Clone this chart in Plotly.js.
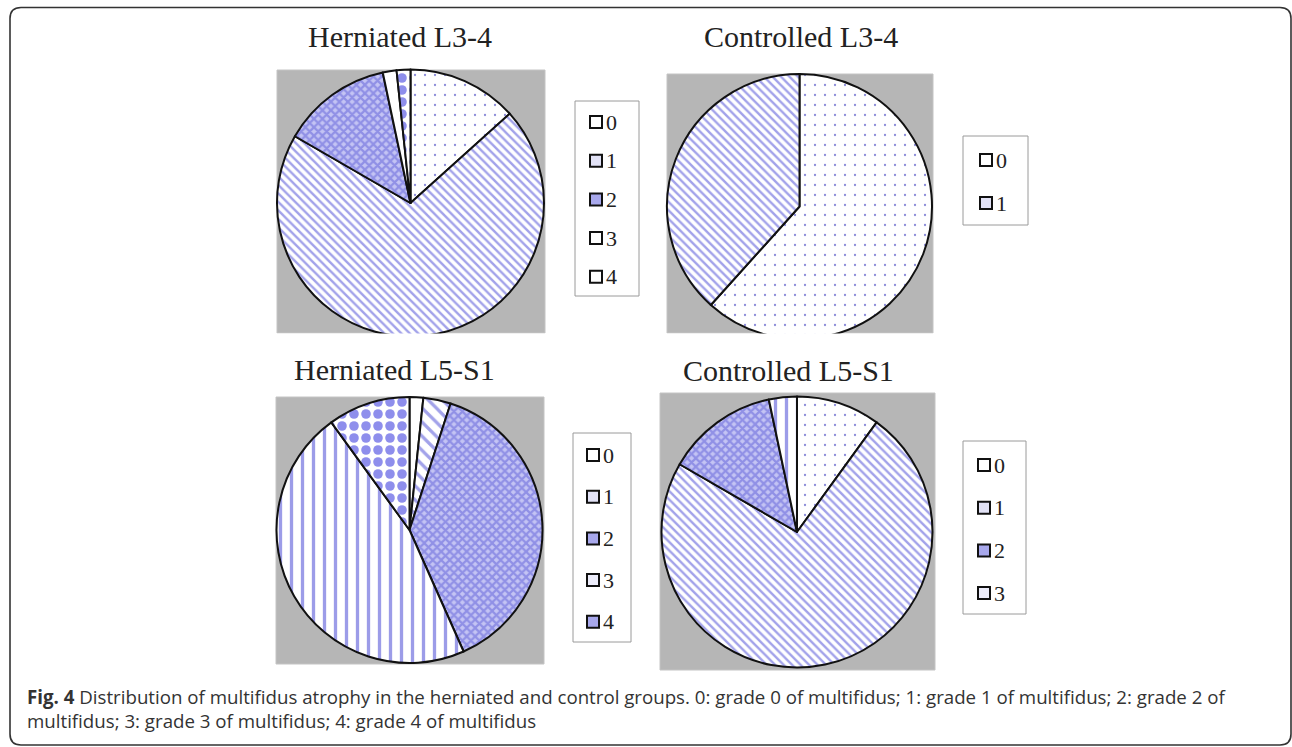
<!DOCTYPE html>
<html>
<head>
<meta charset="utf-8">
<script src="https://cdn.plot.ly/plotly-3.0.1.min.js"></script>
<style>
html,body{margin:0;padding:0;background:#ffffff;}
#chart{width:1292px;height:747px;}
</style>
</head>
<body>
<div id="chart"></div>
<script>
// ---------- data ----------
const grades = ["0", "1", "2", "3", "4"];
const titles = ["Herniated L3-4", "Controlled L3-4", "Herniated L5-S1", "Controlled L5-S1"];
const herniatedL34 = [8, 42, 8, 1, 1];
const controlledL34 = [37, 23];
const herniatedL51 = [1, 2, 23, 28, 6];
const controlledL51 = [6, 44, 8, 2];
const captionBold = "Fig. 4";
const captionLine1 = " Distribution of multifidus atrophy in the herniated and control groups. 0: grade 0 of multifidus; 1: grade 1 of multifidus; 2: grade 2 of";
const captionLine2 = "multifidus; 3: grade 3 of multifidus; 4: grade 4 of multifidus";

// ---------- styling / geometry ----------
const W = 1292, H = 747;
const px = x => x / W;
const py = y => 1 - y / H;

const ST = {
  dots:    {shape: ".",  fg: "#8c8cd8", bg: "#ffffff", size: 10, solidity: 0.04, icon: "#ffffff"},
  diag:    {shape: "\\", fg: "#a2a2ea", bg: "#ffffff", size: 6,  solidity: 0.4,  icon: "#e2e2f6"},
  diagW:   {shape: "\\", fg: "#a2a2ea", bg: "#ffffff", size: 10, solidity: 0.32, icon: "#e2e2f6"},
  cross:   {shape: "x",  fg: "#9090e6", bg: "#c4c4f4", size: 6,  solidity: 0.6,  icon: "#a8a8ec"},
  vert:    {shape: "|",  fg: "#9c9ce8", bg: "#ffffff", size: 11, solidity: 0.3,  icon: "#ececfa"},
  checker: {shape: ".",  fg: "#8e8eec", bg: "#ffffff", size: 12, solidity: 0.5,  icon: "#b8b8f0"},
  plain:   {shape: "",   fg: "#ffffff", bg: "#ffffff", size: 8,  solidity: 0.3,  icon: "#ffffff"}
};

const panels = [
  {values: herniatedL34,  styles: [ST.dots, ST.diag, ST.cross, ST.plain, ST.plain],
   pieStyles: [ST.dots, ST.diag, ST.cross, ST.plain, ST.checker],
   cx: 410.5, cy: 203, r: 133.5, box: [277, 70, 545, 333], tx: 400, ty: 37, clip: true,
   leg: {box: [575, 101, 639, 296], y0: 122, dy: 38.7, ix: 590}},
  {values: controlledL34, styles: [ST.plain, ST.diag],
   pieStyles: [ST.dots, ST.diag],
   cx: 799.5, cy: 206.5, r: 132.5, box: [667, 74, 933, 333], tx: 801, ty: 37, clip: true,
   leg: {box: [963, 136, 1028, 225], y0: 160, dy: 43, ix: 980}},
  {values: herniatedL51,  styles: [ST.plain, ST.diag, ST.cross, ST.vert, ST.cross],
   pieStyles: [ST.plain, ST.diagW, ST.cross, ST.vert, ST.checker],
   cx: 409.5, cy: 530, r: 133, box: [276, 397, 544, 664], tx: 394, ty: 370, clip: false,
   leg: {box: [573, 433, 631, 642], y0: 455, dy: 41.7, ix: 587}},
  {values: controlledL51, styles: [ST.plain, ST.diag, ST.cross, ST.vert],
   pieStyles: [ST.dots, ST.diag, ST.cross, ST.vert],
   cx: 797, cy: 532, r: 135.5, box: [660, 393, 935, 670], tx: 788, ty: 371, clip: false,
   leg: {box: [963, 441, 1026, 614], y0: 465, dy: 42.7, ix: 978}}
];

const traces = [];
const shapes = [];
const annotations = [];
const layout = {
  width: W, height: H,
  margin: {l: 0, r: 0, t: 0, b: 0, pad: 0},
  paper_bgcolor: "#ffffff",
  plot_bgcolor: "#ffffff",
  showlegend: false,
  font: {family: "Liberation Serif, serif", color: "#222222"}
};

panels.forEach((p, i) => {
  const n = p.values.length;
  const labels = grades.slice(0, n);
  traces.push({
    type: "pie",
    values: p.values,
    labels: labels,
    sort: false,
    direction: "clockwise",
    rotation: 0,
    textinfo: "none",
    hoverinfo: "none",
    showlegend: false,
    domain: {x: [px(p.cx - p.r), px(p.cx + p.r)], y: [py(p.cy + p.r), py(p.cy - p.r)]},
    marker: {
      colors: p.pieStyles.map(s => s.bg),
      line: {color: "#111111", width: 2},
      pattern: {
        shape: p.pieStyles.map(s => s.shape),
        fgcolor: p.pieStyles.map(s => s.fg),
        bgcolor: p.pieStyles.map(s => s.bg),
        size: p.pieStyles.map(s => s.size),
        solidity: p.pieStyles.map(s => s.solidity),
        fillmode: "replace"
      }
    }
  });
  // gray plot area
  shapes.push({
    type: "rect", xref: "paper", yref: "paper", layer: "below",
    x0: px(p.box[0]), x1: px(p.box[2]), y0: py(p.box[3]), y1: py(p.box[1]),
    fillcolor: "#b6b6b6", line: {color: "#c4c4c4", width: 1}
  });
  if (p.clip) {
    shapes.push({
      type: "rect", xref: "paper", yref: "paper", layer: "above",
      x0: px(p.box[0] - 4), x1: px(p.box[2] + 4), y0: py(p.cy + p.r + 4), y1: py(p.box[3] + 0.5),
      fillcolor: "#ffffff", line: {width: 0}
    });
  }
  // legend box
  const L = p.leg;
  shapes.push({
    type: "rect", xref: "paper", yref: "paper", layer: "above",
    x0: px(L.box[0]), x1: px(L.box[2]), y0: py(L.box[3]), y1: py(L.box[1]),
    fillcolor: "#ffffff", line: {color: "#9a9a9a", width: 1}
  });
  labels.forEach((lab, k) => {
    const yc = L.y0 + k * L.dy;
    shapes.push({
      type: "rect", xref: "paper", yref: "paper", layer: "above",
      x0: px(L.ix), x1: px(L.ix + 12), y0: py(yc + 6), y1: py(yc - 6),
      fillcolor: p.styles[k].icon, line: {color: "#111111", width: 2}
    });
    annotations.push({
      text: lab, xref: "paper", yref: "paper",
      x: px(L.ix + 14), y: py(yc), xanchor: "left", yanchor: "middle",
      showarrow: false,
      font: {family: "Liberation Serif, serif", size: 22, color: "#222222"}
    });
  });
  // title
  annotations.push({
    text: titles[i], xref: "paper", yref: "paper",
    x: px(p.tx), y: py(p.ty), xanchor: "center", yanchor: "middle",
    showarrow: false,
    font: {family: "Liberation Serif, serif", size: 30, color: "#222222"}
  });
});

// caption
annotations.push({
  text: "<b>" + captionBold + "</b>" + captionLine1 + "<br>" + captionLine2,
  xref: "paper", yref: "paper", x: px(25), y: py(682),
  xanchor: "left", yanchor: "top", align: "left", showarrow: false,
  font: {family: "Open Sans, sans-serif", size: 18.7, color: "#333333"}
});

// rounded outer frame
(function () {
  const x0 = 10, y0 = 7.5, x1 = 1291, y1 = 745, r = 11;
  const P = (x, y) => px(x) + "," + py(y);
  const d = "M" + P(x0 + r, y0) + " L" + P(x1 - r, y0) + " Q" + P(x1, y0) + " " + P(x1, y0 + r) +
            " L" + P(x1, y1 - r) + " Q" + P(x1, y1) + " " + P(x1 - r, y1) +
            " L" + P(x0 + r, y1) + " Q" + P(x0, y1) + " " + P(x0, y1 - r) +
            " L" + P(x0, y0 + r) + " Q" + P(x0, y0) + " " + P(x0 + r, y0) + " Z";
  shapes.push({type: "path", xref: "paper", yref: "paper", path: d, layer: "above",
               line: {color: "#333333", width: 1.6}});
})();

layout.shapes = shapes;
layout.annotations = annotations;

Plotly.newPlot("chart", traces, layout, {staticPlot: true, displayModeBar: false});
</script>
</body>
</html>
